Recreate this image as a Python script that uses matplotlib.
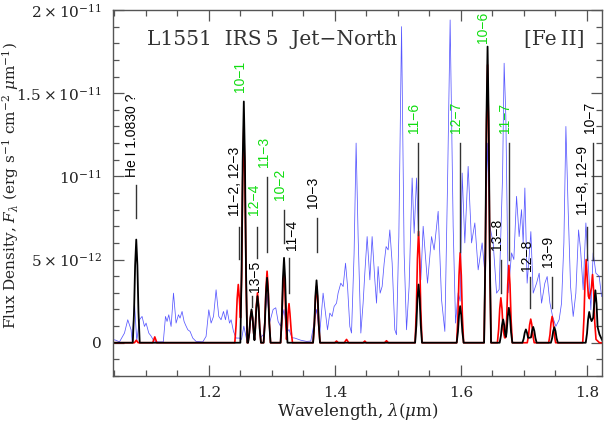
import matplotlib.pyplot as plt
from matplotlib.ticker import MultipleLocator

plt.rcParams['font.family'] = ['DejaVu Serif']
plt.rcParams['mathtext.fontset'] = 'dejavuserif'

# fluxes in units of 1e-12 erg/s/cm2/um
SCALE = 1e-12

# observed spectrum (blue)
obs_wave = [1.0476, 1.0524, 1.0583, 1.0662, 1.0714, 1.0767, 1.0783, 1.0821, 1.0857, 1.0900,
            1.0941, 1.0979, 1.1005, 1.1048, 1.1084, 1.1122, 1.1163, 1.1278, 1.1313, 1.1338,
            1.1365, 1.1402, 1.1440, 1.1481, 1.1519, 1.1544, 1.1576, 1.1608, 1.1630, 1.1667,
            1.1703, 1.1746, 1.1798, 1.1905, 1.1957, 1.2000, 1.2037, 1.2075, 1.2116, 1.2159,
            1.2195, 1.2233, 1.2265, 1.2290, 1.2329, 1.2354, 1.2392, 1.2433, 1.2487, 1.2520,
            1.2556, 1.2600, 1.2640, 1.2678, 1.2720, 1.2773, 1.2820, 1.2870, 1.2925, 1.2965,
            1.3021, 1.3063, 1.3100, 1.3138, 1.3194, 1.3240, 1.3273, 1.3320, 1.3365, 1.3460,
            1.3551, 1.3619, 1.3710, 1.3760, 1.3814, 1.3884, 1.3921, 1.3957, 1.3989, 1.4027,
            1.4052, 1.4095, 1.4132, 1.4170, 1.4202, 1.4238, 1.4265, 1.4306, 1.4338, 1.4370,
            1.4413, 1.4449, 1.4476, 1.4513, 1.4556, 1.4592, 1.4635, 1.4662, 1.4687, 1.4719,
            1.4751, 1.4783, 1.4814, 1.4846, 1.4873, 1.4910, 1.4952, 1.4979, 1.5016, 1.5059,
            1.5100, 1.5138, 1.5179, 1.5227, 1.5259, 1.5297, 1.5333, 1.5365, 1.5402, 1.5471,
            1.5535, 1.5576, 1.5640, 1.5694, 1.5746, 1.5789, 1.5830, 1.5878, 1.5916, 1.5957,
            1.5989, 1.6021, 1.6063, 1.6116, 1.6170, 1.6222, 1.6275, 1.6338, 1.6381, 1.6424,
            1.6460, 1.6513, 1.6567, 1.6608, 1.6662, 1.6687, 1.6714, 1.6751, 1.6805, 1.6841,
            1.6884, 1.6925, 1.6963, 1.6989, 1.7016, 1.7052, 1.7084, 1.7111, 1.7148, 1.7202,
            1.7243, 1.7281, 1.7333, 1.7370, 1.7413, 1.7456, 1.7508, 1.7560, 1.7598, 1.7635,
            1.7667, 1.7703, 1.7741, 1.7783, 1.7825, 1.7868, 1.7900, 1.7941, 1.7984, 1.8027,
            1.8063, 1.8100, 1.8143, 1.8195, 1.8233]
obs_flux = [0.20, 0.15, 0.05, 0.58, 1.38, 0.78, 0.08, 2.40, 0.10, 1.38,
            1.58, 0.98, 1.18, 0.58, 0.40, 0.15, 0.05, 0.05, 1.58, 1.28,
            1.68, 0.98, 2.98, 1.18, 1.68, 1.48, 1.88, 1.28, 1.08, 0.78,
            0.68, 0.28, 0.08, 0.05, 0.38, 1.98, 1.18, 1.58, 3.18, 1.58,
            1.38, 1.88, 1.38, 1.98, 1.18, 1.38, 0.68, 0.28, 0.28, 0.20,
            1.00, 0.20, 0.30, 1.80, 0.40, 2.80, 0.30, 0.50, 3.00, 1.20,
            2.00, 2.10, 1.28, 1.00, 2.00, 0.60, 0.80, 0.30, 0.28, 0.15,
            0.08, 0.10, 2.00, 0.50, 2.98, 0.78, 1.78, 1.58, 2.18, 2.38,
            2.98, 3.58, 3.38, 4.78, 3.38, 0.98, 0.58, 5.38, 12.00, 6.38,
            0.58, 2.38, 4.18, 6.38, 3.78, 6.38, 3.78, 2.38, 4.58, 2.98,
            3.38, 4.78, 5.78, 5.58, 6.78, 4.78, 0.78, 0.48, 6.38, 19.00,
            5.38, 0.78, 3.38, 9.90, 6.58, 9.90, 6.00, 3.78, 7.00, 3.58,
            6.38, 5.58, 7.90, 2.58, 0.68, 9.60, 19.40, 7.00, 1.18, 3.00,
            2.50, 10.20, 6.00, 10.60, 6.00, 7.20, 4.38, 6.00, 4.20, 12.00,
            7.00, 6.00, 2.98, 3.20, 10.00, 16.80, 13.60, 3.00, 5.40, 5.00,
            8.80, 6.38, 8.00, 6.00, 9.30, 3.58, 5.18, 6.68, 2.98, 3.58,
            4.18, 2.38, 3.58, 3.98, 2.40, 1.58, 0.98, 1.38, 2.38, 6.00,
            13.00, 8.00, 3.38, 1.58, 2.98, 6.78, 5.58, 3.18, 7.20, 4.38,
            1.98, 5.40, 4.18, 4.00, 2.78]

# model spectrum 1 (red)
red_wave = [1.0476, 1.0820, 1.0850, 1.0880, 1.1110, 1.1143, 1.1176,
            1.2413, 1.2433, 1.2450, 1.2468, 1.2486, 1.2503, 1.2521, 1.2538, 1.2556, 1.2574, 1.2591, 1.2611,
            1.2623, 1.2643, 1.2660, 1.2678, 1.2696, 1.2713, 1.2725, 1.2738, 1.2755, 1.2773, 1.2791, 1.2808, 1.2828,
            1.2870, 1.2890, 1.2907, 1.2925, 1.2943, 1.2960, 1.2980,
            1.3139, 1.3159, 1.3176, 1.3194, 1.3210, 1.3224, 1.3234, 1.3245, 1.3258, 1.3273, 1.3288, 1.3308, 1.3328,
            1.3655, 1.3675, 1.3692, 1.3710, 1.3728, 1.3745, 1.3765,
            1.4000, 1.4027, 1.4055, 1.4150, 1.4186, 1.4220, 1.4450, 1.4476, 1.4500,
            1.4790, 1.4820, 1.4850,
            1.5274, 1.5294, 1.5311, 1.5329, 1.5347, 1.5364, 1.5384,
            1.5934, 1.5954, 1.5971, 1.5989, 1.6007, 1.6024, 1.6044,
            1.6369, 1.6389, 1.6406, 1.6424, 1.6442, 1.6459, 1.6479,
            1.6580, 1.6600, 1.6617, 1.6635, 1.6653, 1.6670, 1.6695, 1.6707, 1.6727, 1.6744, 1.6762, 1.6780, 1.6797, 1.6817,
            1.7054, 1.7074, 1.7091, 1.7109, 1.7127, 1.7144, 1.7164,
            1.7394, 1.7414, 1.7431, 1.7449, 1.7467, 1.7484, 1.7504,
            1.7934, 1.7954, 1.7971, 1.7989, 1.8007, 1.8024, 1.8040, 1.8055, 1.8072, 1.8090, 1.8108, 1.8125, 1.8145,
            1.8200, 1.8250]
red_flux = [0.0, 0.0, 0.15, 0.0, 0.0, 0.35, 0.0,
            0.0, 1.05, 2.63, 3.5, 2.63, 1.5, 3.9, 9.75, 13.0, 9.75, 3.9, 0.0,
            0.0, 0.57, 1.43, 1.9, 1.43, 0.57, 0.2, 0.9, 2.25, 3.0, 2.25, 0.9, 0.0,
            0.0, 1.29, 3.23, 4.3, 3.23, 1.29, 0.0,
            0.0, 1.29, 3.23, 4.3, 3.0, 1.0, 0.2, 0.8, 1.76, 2.35, 1.76, 0.7, 0.0,
            0.0, 1.02, 2.55, 3.4, 2.55, 1.02, 0.0,
            0.0, 0.1, 0.0, 0.0, 0.2, 0.0, 0.0, 0.1, 0.0,
            0.0, 0.12, 0.0,
            0.0, 2.01, 5.03, 6.7, 5.03, 2.01, 0.0,
            0.0, 1.62, 4.05, 5.4, 4.05, 1.62, 0.0,
            0.0, 5.01, 12.53, 16.7, 12.53, 5.01, 0.0,
            0.0, 0.81, 2.03, 2.7, 2.03, 0.81, 0.3, 0.3, 1.4, 3.49, 4.65, 3.49, 1.4, 0.0,
            0.0, 0.43, 1.07, 1.42, 1.07, 0.43, 0.0,
            0.0, 0.47, 1.19, 1.58, 1.19, 0.47, 0.0,
            0.0, 1.5, 3.75, 5.0, 3.75, 2.8, 2.65, 3.0, 3.3, 4.1, 3.08, 1.23, 0.2,
            0.0, 0.0]

# model spectrum 2 (black)
blk_wave = [1.0476, 1.0794, 1.0814, 1.0831, 1.0849, 1.0867, 1.0884, 1.0904,
            1.2501, 1.2521, 1.2538, 1.2556, 1.2574, 1.2591, 1.2611,
            1.2623, 1.2643, 1.2660, 1.2678, 1.2696, 1.2713, 1.2725, 1.2738, 1.2755, 1.2773, 1.2791, 1.2808, 1.2828,
            1.2870, 1.2890, 1.2907, 1.2925, 1.2943, 1.2960, 1.2980,
            1.3139, 1.3159, 1.3176, 1.3194, 1.3212, 1.3229, 1.3249,
            1.3655, 1.3675, 1.3692, 1.3710, 1.3728, 1.3745, 1.3765,
            1.5274, 1.5294, 1.5311, 1.5329, 1.5347, 1.5364, 1.5384,
            1.5934, 1.5954, 1.5971, 1.5989, 1.6007, 1.6024, 1.6044,
            1.6369, 1.6389, 1.6406, 1.6424, 1.6442, 1.6459, 1.6479,
            1.6616, 1.6636, 1.6653, 1.6671, 1.6689, 1.6706, 1.6716, 1.6727, 1.6744, 1.6762, 1.6780, 1.6797, 1.6817,
            1.6977, 1.6997, 1.7014, 1.7032, 1.7050, 1.7067, 1.7090, 1.7113, 1.7130, 1.7148, 1.7166, 1.7183, 1.7203,
            1.7429, 1.7449, 1.7466, 1.7484, 1.7502, 1.7519, 1.7539,
            1.7982, 1.8002, 1.8019, 1.8037, 1.8055, 1.8075, 1.8100, 1.8117, 1.8135, 1.8153, 1.8170, 1.8200, 1.8250]
blk_flux = [0.0, 0.0, 1.86, 4.65, 6.2, 4.65, 1.86, 0.0,
            0.0, 4.35, 10.88, 14.5, 10.88, 4.35, 0.0,
            0.0, 0.6, 1.5, 2.0, 1.5, 0.6, 0.15, 0.84, 2.1, 2.8, 2.1, 0.84, 0.0,
            0.0, 1.17, 2.93, 3.9, 2.93, 1.17, 0.0,
            0.0, 1.53, 3.83, 5.1, 3.83, 1.53, 0.0,
            0.0, 1.13, 2.81, 3.75, 2.81, 1.13, 0.0,
            0.0, 1.05, 2.63, 3.5, 2.63, 1.05, 0.0,
            0.0, 0.66, 1.65, 2.2, 1.65, 0.66, 0.0,
            0.0, 5.34, 13.35, 17.8, 13.35, 5.34, 0.0,
            0.0, 0.42, 1.05, 1.4, 1.05, 0.45, 0.35, 0.65, 1.58, 2.1, 1.58, 0.63, 0.0,
            0.0, 0.24, 0.6, 0.8, 0.6, 0.3, 0.3, 0.32, 0.71, 0.95, 0.71, 0.29, 0.0,
            0.0, 0.28, 0.7, 0.93, 0.7, 0.28, 0.0,
            0.0, 0.56, 1.39, 1.85, 1.5, 1.3, 1.5, 2.36, 3.15, 2.36, 0.95, 0.5, 0.1]

# line identifications
id_text = ['He I 1.0830 ?', '11\u22122, 12\u22123', '10\u22121', '12\u22124', '13\u22125',
           '11\u22123', '10\u22122', '11\u22124', '10\u22123', '11\u22126', '12\u22127',
           '10\u22126', '11\u22127', '13\u22128', '12\u22128', '13\u22129',
           '11\u22128, 12\u22129', '10\u22127']
id_wave = [1.0846, 1.2476, None, 1.2770, 1.2690, 1.2925, 1.3186, 1.3275, 1.3710,
           1.5322, 1.5989, None, 1.6762, 1.6635, 1.7095, 1.7444, 1.7995, 1.8090]
id_green = [False, False, True, True, False, True, True, False, False,
            True, True, True, True, False, False, False, False, False]

# label layout: text x, text bottom, tick top, tick bottom
lab_x = [1.0786, 1.2421, 1.2500, 1.2714, 1.2735, 1.2873, 1.3127, 1.3322, 1.3656,
         1.5259, 1.5921, 1.6354, 1.6698, 1.6567, 1.7043, 1.7386, 1.7941, 1.8048]
lab_y = [9.97, 7.63, 15.07, 7.69, 3.06, 10.59, 8.59, 5.59, 8.09,
         12.59, 12.59, 18.0, 12.59, 5.59, 4.32, 4.58, 7.69, 12.59]
tick_top = [9.49, 6.98, None, 6.98, 2.79, 9.99, 7.99, 5.09, 7.49,
            11.99, 11.99, None, 11.99, 4.98, 3.98, 3.98, 6.98, 11.99]
tick_bot = [7.51, 5.01, None, 5.10, 2.16, 5.48, 5.99, 2.98, 5.48,
            6.49, 5.48, None, 4.98, 2.98, 2.08, 2.08, 4.98, 4.98]

fig = plt.figure(figsize=(6.07, 4.25), dpi=100)
ax = fig.add_axes([113 / 607, 49 / 425, 489 / 607, 366 / 425])

ax.plot(obs_wave, [f * SCALE for f in obs_flux], color='#3a3aff', lw=0.55, alpha=0.85)
ax.plot(red_wave, [f * SCALE for f in red_flux], color='red', lw=1.2)
ax.plot(blk_wave, [f * SCALE for f in blk_flux], color='black', lw=1.3)

for i in range(len(id_text)):
    c = '#11dd11' if id_green[i] else 'black'
    ax.text(lab_x[i], lab_y[i] * SCALE, id_text[i], rotation=90, ha='center', va='bottom',
            color=c, fontsize=10, family=['Liberation Sans', 'DejaVu Sans'])
    if id_wave[i] is not None:
        ax.plot([id_wave[i], id_wave[i]], [tick_top[i] * SCALE, tick_bot[i] * SCALE],
                color='#333333', lw=1.0)

ax.set_xlim(1.048, 1.824)
ax.set_ylim(-2e-12, 2e-11)
ax.xaxis.set_minor_locator(MultipleLocator(0.05))
ax.yaxis.set_minor_locator(MultipleLocator(1e-12))
ax.set_yticks([0, 5e-12, 1e-11, 1.5e-11, 2e-11])
ax.set_yticklabels(['0', r'$5\times10^{-12}$', r'$10^{-11}$', r'$1.5\times10^{-11}$',
                    r'$2\times10^{-11}$'])
ax.set_xticks([1.2, 1.4, 1.6, 1.8])
ax.set_xticklabels(['1.2', '1.4', '1.6', '1.8'])

ax.tick_params(which='both', direction='in', top=True, right=True, colors='#555555',
               labelcolor='#222222', labelsize=11)
ax.tick_params(which='major', length=8, width=0.9)
ax.tick_params(which='minor', length=4, width=0.9)
ax.tick_params(axis='x', pad=7)
ax.tick_params(axis='y', pad=8)
for s in ax.spines.values():
    s.set_color('#555555')
    s.set_linewidth(1.0)

ax.text(0.069, 0.904, 'L1551  IRS\u20095  Jet\u2212North', transform=ax.transAxes,
        fontsize=14.5, color='#333333', va='baseline', ha='left')
ax.text(0.965, 0.904, '[Fe\u2009II]', transform=ax.transAxes,
        fontsize=14.5, color='#333333', va='baseline', ha='right')

fig.text(357.5 / 607, 1 - 411 / 425, r'Wavelength, $\lambda(\mu$m$)$', ha='center', va='center',
         fontsize=12, color='#222222')
fig.text(11 / 607, 1 - 186 / 425,
         r'Flux Density, $F_\lambda$ (erg s$^{-1}$ cm$^{-2}$ $\mu$m$^{-1}$)',
         rotation=90, ha='center', va='center', fontsize=11, color='#222222')

fig.savefig('out.png', dpi=100)
